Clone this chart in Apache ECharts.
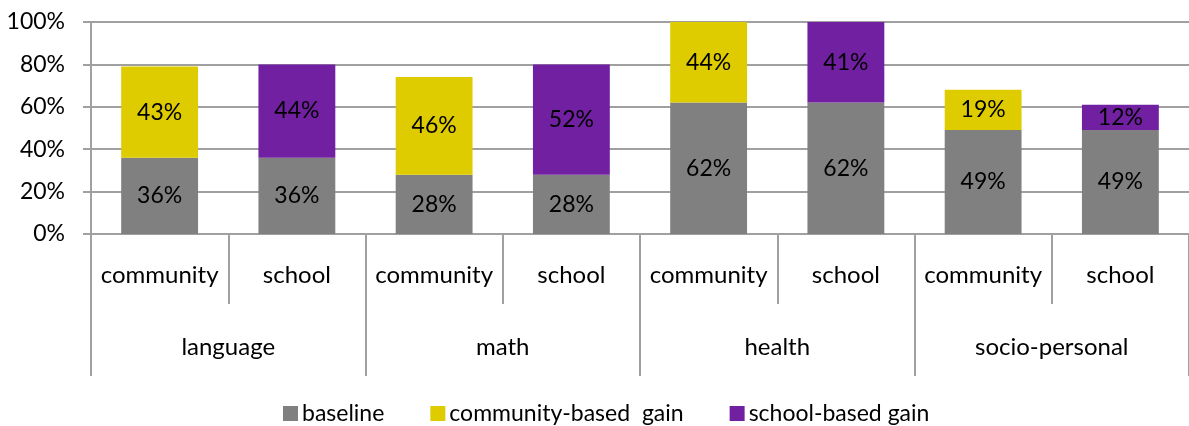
<!DOCTYPE html>
<html>
<head>
<meta charset="utf-8">
<script src="https://cdn.jsdelivr.net/npm/echarts@6/dist/echarts.min.js"></script>
<style>
  html, body { margin: 0; padding: 0; background: #fff; }
  #chart { width: 1189px; height: 426px; }
</style>
</head>
<body>
<div id="chart"></div>
<script>
// Stacked bars: baseline plus gain for each subject and setting
const settings = ['community', 'school', 'community', 'school', 'community', 'school', 'community', 'school'];
const subjects = ['language', 'math', 'health', 'socio-personal'];
const baseline = [36, 36, 28, 28, 62, 62, 49, 49];
const communityGain = [43, '-', 46, '-', 44, '-', 19, '-'];
const schoolGain = ['-', 44, '-', 52, '-', 41, '-', 12];
const yTicks = [0, 20, 40, 60, 80, 100];

const FONT = 'Lato';
const AXIS_GREY = '#a0a0a0';

const chart = echarts.init(document.getElementById('chart'), null, { renderer: 'canvas' });

const valueLabel = {
  show: true,
  position: 'inside',
  formatter: p => p.value + '%',
  color: '#000',
  fontFamily: FONT,
  fontSize: 23
};

function barSeries(name, data, color) {
  return {
    name: name,
    type: 'bar',
    stack: 'total',
    data: data,
    barWidth: '56%',
    xAxisIndex: 0,
    itemStyle: { color: color },
    label: valueLabel,
    emphasis: { disabled: true }
  };
}

chart.setOption({
  animation: false,
  textStyle: { fontFamily: FONT },
  grid: { left: 91, right: -8, top: 22, bottom: 192, containLabel: false },
  legend: {
    top: 397,
    left: 278,
    itemWidth: 15,
    itemHeight: 15,
    itemGap: 46,
    icon: 'rect',
    textStyle: { fontFamily: FONT, fontSize: 23, color: '#000', padding: [0, 0, 0, -1] },
    data: ['baseline', 'community-based  gain', 'school-based gain']
  },
  xAxis: [
    {
      type: 'category',
      data: settings,
      position: 'bottom',
      axisLine: { show: true, lineStyle: { color: AXIS_GREY, width: 2 } },
      axisTick: { show: true, interval: 0, length: 70, lineStyle: { color: AXIS_GREY, width: 2 } },
      axisLabel: { interval: 0, margin: 29, color: '#000', fontFamily: FONT, fontSize: 24 }
    },
    {
      type: 'category',
      data: subjects,
      position: 'bottom',
      axisLine: { show: false },
      axisTick: { show: true, interval: 0, length: 142, lineStyle: { color: AXIS_GREY, width: 2 } },
      axisLabel: { interval: 0, margin: 101, color: '#000', fontFamily: FONT, fontSize: 24 }
    }
  ],
  yAxis: {
    type: 'value',
    min: 0,
    max: 100,
    interval: 20,
    axisLine: { show: true, lineStyle: { color: AXIS_GREY, width: 2 } },
    axisTick: { show: true, length: 8, lineStyle: { color: AXIS_GREY, width: 2 } },
    splitLine: { show: true, lineStyle: { color: AXIS_GREY, width: 2 } },
    axisLabel: {
      margin: 26,
      color: '#000',
      fontFamily: FONT,
      fontSize: 23,
      customValues: yTicks,
      formatter: v => v + '%'
    }
  },
  series: [
    barSeries('baseline', baseline, '#808080'),
    barSeries('community-based  gain', communityGain, '#dfcc00'),
    barSeries('school-based gain', schoolGain, '#7020a0')
  ]
});
</script>
</body>
</html>
